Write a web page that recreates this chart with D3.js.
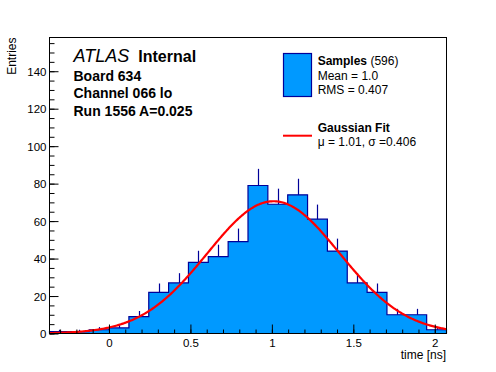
<!DOCTYPE html>
<html>
<head>
<meta charset="utf-8">
<script src="https://cdn.jsdelivr.net/npm/d3@7"></script>
<style>
  html, body { margin: 0; padding: 0; background: #fff; }
  svg { display: block; }
  text { font-family: "Liberation Sans", Arial, Helvetica, sans-serif; fill: #000; }
</style>
</head>
<body>
<svg id="chart" width="496" height="372"></svg>
<script>
// ---- data ----
const xDomain = [-0.365, 2.072];          // histogram range (time [ns])
const binCounts = [1, 1, 2, 3, 9, 22, 27, 38, 41, 49, 79, 69, 74, 61, 44, 27, 22, 10, 10, 2];
const yMax = 158;
const xTicksMajor = [0, 0.5, 1, 1.5, 2];
const xTickLabels = ["0", "0.5", "1", "1.5", "2"];
const yTicksMajor = [0, 20, 40, 60, 80, 100, 120, 140];
const yTickLabels = ["0", "20", "40", "60", "80", "100", "120", "140"];
const fitMu = 1.01;
const fitSigma = 0.406;
const fitAmp = 70.6;
const infoLines = ["Board 634", "Channel 066 lo", "Run 1556 A=0.025"];

// ---- layout ----
const svg = d3.select("#chart");
const L = 49.5, R = 446.5, T = 37.5, B = 333.5;
const x = d3.scaleLinear().domain(xDomain).range([L, R]);
const y = d3.scaleLinear().domain([0, yMax]).range([B, T]);

const nb = binCounts.length;
const bw = (xDomain[1] - xDomain[0]) / nb;
const edges = d3.range(nb + 1).map(i => xDomain[0] + i * bw);

const fillCol = "#0099ff", lineCol = "#000099";

// histogram fill
const pts = binCounts.map((c, i) => [edges[i], c]);
pts.push([edges[nb], binCounts[nb - 1]]);
svg.append("path")
  .datum(pts)
  .attr("d", d3.area().x(d => x(d[0])).y0(y(0)).y1(d => y(d[1])).curve(d3.curveStepAfter))
  .attr("fill", fillCol);

// error bars (upper part visible)
svg.append("g").selectAll("line").data(binCounts).join("line")
  .attr("x1", (c, i) => Math.round(x(edges[i] + bw / 2)) + 0.5)
  .attr("x2", (c, i) => Math.round(x(edges[i] + bw / 2)) + 0.5)
  .attr("y1", c => y(c))
  .attr("y2", c => y(c + Math.sqrt(c)))
  .attr("stroke", lineCol).attr("stroke-width", 1.2);

// outline
const opts = [[edges[0], 0]].concat(pts);
opts.push([edges[nb], 0]);
svg.append("path")
  .datum(opts)
  .attr("d", d3.line().x(d => x(d[0])).y(d => y(d[1])).curve(d3.curveStepAfter))
  .attr("fill", "none").attr("stroke", lineCol).attr("stroke-width", 1.2);

// gaussian fit
const gx = d3.range(0, 401).map(i => xDomain[0] + (xDomain[1] - xDomain[0]) * i / 400);
svg.append("path")
  .datum(gx)
  .attr("d", d3.line().x(d => x(d)).y(d => y(fitAmp * Math.exp(-0.5 * Math.pow((d - fitMu) / fitSigma, 2)))))
  .attr("fill", "none").attr("stroke", "#ff0000").attr("stroke-width", 2.2);

// frame
svg.append("rect").attr("x", L).attr("y", T).attr("width", R - L).attr("height", B - T)
  .attr("fill", "none").attr("stroke", "#000").attr("stroke-width", 1);

// x axis ticks (inside)
const xMinor = d3.range(-3, 21).map(i => i / 10).filter(v => v >= xDomain[0] && v <= xDomain[1]);
const xAxis = d3.axisBottom(x).tickValues(xMinor).tickSize(-4).tickFormat("");
svg.append("g").attr("transform", `translate(0,${B})`).call(xAxis)
  .call(g => g.select(".domain").remove());
const xAxisMaj = d3.axisBottom(x).tickValues(xTicksMajor).tickSize(-9)
  .tickFormat((d, i) => xTickLabels[i]).tickPadding(0);
svg.append("g").attr("transform", `translate(0,${B})`).call(xAxisMaj)
  .call(g => g.select(".domain").remove())
  .call(g => g.selectAll("text").attr("y", 0).attr("dy", "13.5px")
    .attr("font-size", "11.5px").attr("font-family", "Liberation Sans, Arial, sans-serif"));

// y axis ticks (inside)
const yMinor = d3.range(0, 160, 5).filter(v => v <= yMax);
const yAxis = d3.axisLeft(y).tickValues(yMinor).tickSize(-5).tickFormat("");
svg.append("g").attr("transform", `translate(${L},0)`).call(yAxis)
  .call(g => g.select(".domain").remove());
const yAxisMaj = d3.axisLeft(y).tickValues(yTicksMajor).tickSize(-9)
  .tickFormat((d, i) => yTickLabels[i]);
svg.append("g").attr("transform", `translate(${L},0)`).call(yAxisMaj)
  .call(g => g.select(".domain").remove())
  .call(g => g.selectAll("text").attr("x", -3).attr("dy", "0.36em")
    .attr("font-size", "11.5px").attr("font-family", "Liberation Sans, Arial, sans-serif"));

// axis titles
svg.append("text").attr("x", 446).attr("y", 358.5).attr("text-anchor", "end")
  .attr("font-size", "12px").text("time [ns]");
svg.append("text").attr("transform", "translate(16,37.5) rotate(-90)").attr("text-anchor", "end")
  .attr("font-size", "12px").text("Entries");

// ATLAS label
svg.append("text").attr("x", 73.5).attr("y", 62.3).attr("font-size", "18px")
  .attr("font-style", "italic").text("ATLAS");
svg.append("text").attr("x", 138.3).attr("y", 62.3).attr("font-size", "16px")
  .attr("font-weight", "bold").text("Internal");
svg.append("g").selectAll("text").data(infoLines).join("text")
  .attr("x", 73.5).attr("y", (d, i) => 80.7 + i * 17.5)
  .attr("font-size", "14px").attr("font-weight", "bold").text(d => d);

// legend
svg.append("rect").attr("x", 283.5).attr("y", 53.5).attr("width", 28).attr("height", 43)
  .attr("fill", fillCol).attr("stroke", lineCol).attr("stroke-width", 1.2);
const t1 = svg.append("text").attr("x", 317.7).attr("y", 64.5).attr("font-size", "12px");
t1.append("tspan").attr("font-weight", "bold").text("Samples");
t1.append("tspan").text(" (596)");
svg.append("text").attr("x", 317.7).attr("y", 79.5).attr("font-size", "12px").text("Mean = 1.0");
svg.append("text").attr("x", 317.7).attr("y", 93.5).attr("font-size", "12px").text("RMS = 0.407");
svg.append("line").attr("x1", 283).attr("x2", 312).attr("y1", 135.7).attr("y2", 135.7)
  .attr("stroke", "#ff0000").attr("stroke-width", 2);
svg.append("text").attr("x", 317.7).attr("y", 132.3).attr("font-size", "12px")
  .attr("font-weight", "bold").text("Gaussian Fit");
svg.append("text").attr("x", 317.7).attr("y", 146).attr("font-size", "12px")
  .text("\u03bc = 1.01, \u03c3 =0.406");
</script>
</body>
</html>
